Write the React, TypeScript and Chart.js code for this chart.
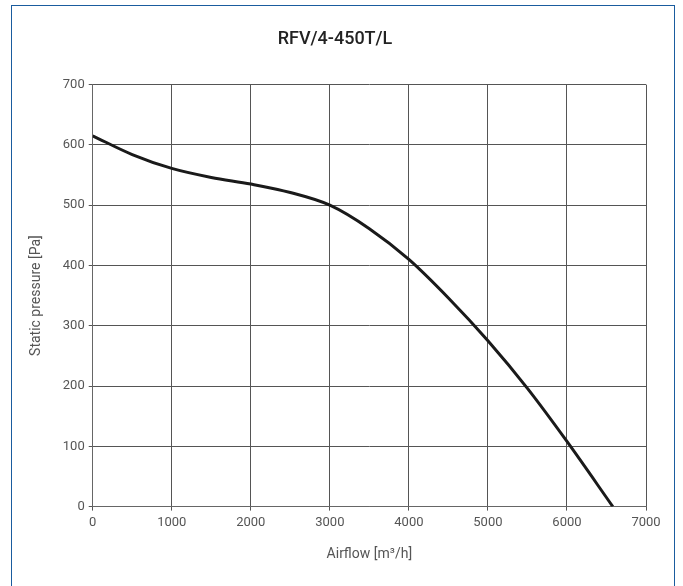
import React, { useEffect, useRef } from "react";
import { Chart, registerables } from "chart.js";

Chart.register(...registerables);

const airflow = [0, 500, 1000, 1500, 2000, 2500, 3000, 3500, 4000, 4500, 5000, 5500, 6000, 6580];
const pressure = [615, 584, 561, 546, 535, 521, 500, 461, 410, 346, 275, 196, 108, 0];
const titleText = "RFV/4-450T/L";
const xTitle = "Airflow [m³/h]";
const yTitle = "Static pressure [Pa]";

export default function App() {
  const ref = useRef<HTMLCanvasElement | null>(null);
  useEffect(() => {
    if (!ref.current) return;
    const font = "Roboto, 'DejaVu Sans', sans-serif";
    const chart = new Chart(ref.current, {
      type: "scatter",
      data: {
        datasets: [
          {
            data: airflow.map((x, i) => ({ x, y: pressure[i] })),
            showLine: true,
            borderColor: "#1a1a1a",
            borderWidth: 3,
            pointRadius: 0,
            cubicInterpolationMode: "monotone",
          },
        ],
      },
      options: {
        responsive: false,
        animation: false,
        layout: { padding: { left: 24, right: 37, top: 18, bottom: 19 } },
        plugins: {
          legend: { display: false },
          tooltip: { enabled: false },
          title: {
            display: true,
            text: titleText,
            color: "#222",
            font: { family: font, size: 18, weight: "500" },
            padding: { top: 11, bottom: 34 },
          },
        },
        scales: {
          x: {
            type: "linear",
            min: 0,
            max: 7000,
            ticks: { stepSize: 1000, color: "#555", font: { family: font, size: 13 }, padding: 4, callback: (v: any) => String(v) },
            grid: { color: "#555", lineWidth: 1, tickLength: 4 },
            border: { color: "#666", width: 1 },
            title: { display: true, text: xTitle, color: "#555", font: { family: font, size: 14 }, padding: { top: 12 } },
          },
          y: {
            min: 0,
            max: 700,
            ticks: { stepSize: 100, color: "#555", font: { family: font, size: 13 }, padding: 4, callback: (v: any) => String(v) },
            grid: { color: "#555", lineWidth: 1, tickLength: 4 },
            border: { color: "#666", width: 1 },
            title: { display: true, text: yTitle, color: "#555", font: { family: font, size: 14 }, padding: { bottom: 14 } },
          },
        },
      },
    });
    return () => chart.destroy();
  }, []);
  return (
    <div style={{ position: "absolute", left: 0, top: 0, width: 683, height: 586, overflow: "hidden", background: "#fff" }}>
      <div
        style={{
          position: "absolute",
          left: 11,
          top: 5,
          width: 664,
          height: 600,
          border: "1.5px solid #1a5c9e",
          boxSizing: "border-box",
        }}
      />
      <canvas ref={ref} width={683} height={586} style={{ position: "absolute", left: 0, top: 0 }} />
    </div>
  );
}
